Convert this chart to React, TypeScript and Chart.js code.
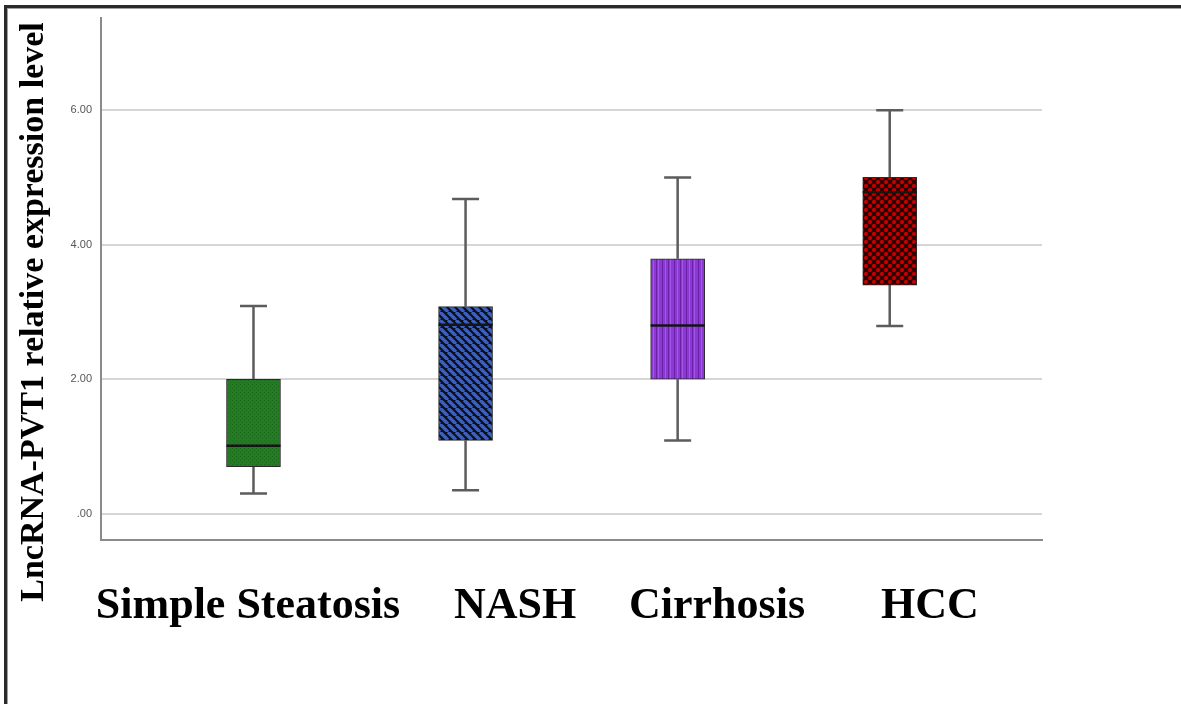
import React, { useEffect, useRef } from "react";
import { Chart, registerables } from "chart.js";

Chart.register(...registerables);

// ---- data ----
const categories = ["Simple Steatosis", "NASH", "Cirrhosis", "HCC"];
const whiskerMin = [0.3, 0.35, 1.09, 2.79];
const q1 = [0.7, 1.09, 2.0, 3.4];
const median = [1.01, 2.81, 2.8, 4.78];
const q3 = [2.0, 3.08, 3.79, 5.0];
const whiskerMax = [3.09, 4.68, 5.0, 6.0];
const yTicks = [0, 2, 4, 6];
const yTitle = "LncRNA-PVT1 relative expression level";

// ---- layout / style ----
const W = 1181;
const H = 704;
const labelCenters = [248, 515, 717, 930];
const labelBaseline = 618;

function makePattern(kind: string): CanvasPattern | string {
  const c = document.createElement("canvas");
  const g = c.getContext("2d")!;
  if (kind === "green") {
    c.width = 4; c.height = 4;
    g.fillStyle = "#237c23"; g.fillRect(0, 0, 4, 4);
    g.fillStyle = "#1b691b";
    g.fillRect(0, 0, 1, 1); g.fillRect(2, 2, 1, 1);
  } else if (kind === "blue") {
    const s = 8;
    c.width = s; c.height = s;
    g.fillStyle = "#0c0f1c"; g.fillRect(0, 0, s, s);
    g.strokeStyle = "#3d60bc"; g.lineWidth = 3.4;
    for (const off of [-s, 0, s]) {
      g.beginPath(); g.moveTo(off, 0); g.lineTo(off + s, s); g.stroke();
    }
  } else if (kind === "purple") {
    c.width = 12; c.height = 4;
    g.fillStyle = "#8c38d2"; g.fillRect(0, 0, 12, 4);
    g.fillStyle = "#6a22a6"; g.fillRect(2, 0, 1, 4); g.fillRect(8, 0, 1, 4);
    g.fillStyle = "#a454ea"; g.fillRect(5, 0, 1, 4); g.fillRect(10, 0, 1, 4);
  } else {
    const s = 8;
    c.width = s; c.height = s;
    g.fillStyle = "#300000"; g.fillRect(0, 0, s, s);
    g.fillStyle = "#c20000";
    for (const [x, y] of [[2, 2], [6, 6], [-2, 6], [6, -2], [10, 6], [6, 10], [2, 10], [10, 2], [-2, -2], [10, 10]]) {
      g.beginPath(); g.arc(x, y, 2.1, 0, Math.PI * 2); g.fill();
    }
  }
  const p = g.createPattern(c, "repeat");
  return p || "#888";
}

const boxPlugin = {
  id: "boxExtras",
  beforeDatasetsDraw(chart: any) {
    const { ctx, scales } = chart;
    const xs = scales.x, ys = scales.y;
    ctx.save();
    ctx.strokeStyle = "#5c5c5c";
    ctx.lineWidth = 2.5;
    categories.forEach((_, i) => {
      const px = xs.getPixelForValue(i);
      const yMax = ys.getPixelForValue(whiskerMax[i]);
      const yMin = ys.getPixelForValue(whiskerMin[i]);
      ctx.beginPath();
      ctx.moveTo(px, yMax); ctx.lineTo(px, ys.getPixelForValue(q3[i]));
      ctx.moveTo(px, yMin); ctx.lineTo(px, ys.getPixelForValue(q1[i]));
      ctx.moveTo(px - 13.5, yMax); ctx.lineTo(px + 13.5, yMax);
      ctx.moveTo(px - 13.5, yMin); ctx.lineTo(px + 13.5, yMin);
      ctx.stroke();
    });
    ctx.restore();
  },
  afterDatasetsDraw(chart: any) {
    const { ctx, scales } = chart;
    const xs = scales.x, ys = scales.y;
    const meta = chart.getDatasetMeta(0);
    ctx.save();
    ctx.strokeStyle = "#151515";
    ctx.lineWidth = 2.5;
    categories.forEach((_, i) => {
      const bar = meta.data[i];
      const half = bar.width / 2;
      const px = xs.getPixelForValue(i);
      const y = ys.getPixelForValue(median[i]);
      ctx.beginPath();
      ctx.moveTo(px - half, y); ctx.lineTo(px + half, y);
      ctx.stroke();
    });
    ctx.restore();
  },
  afterDraw(chart: any) {
    const { ctx } = chart;
    ctx.save();
    // frame
    ctx.fillStyle = "#2a2a2a";
    ctx.fillRect(4, 5, W - 4, 3);
    ctx.fillRect(4, 5, 3, H - 5);
    ctx.fillStyle = "#a0a0a0";
    ctx.fillRect(7, 8, W - 7, 1);
    ctx.fillRect(7, 8, 1, H - 8);
    // y title
    ctx.fillStyle = "#000";
    ctx.font = "bold 34px 'Liberation Serif', 'Times New Roman', serif";
    ctx.textAlign = "center";
    ctx.textBaseline = "alphabetic";
    ctx.translate(43, 312);
    ctx.rotate(-Math.PI / 2);
    ctx.fillText(yTitle, 0, 0);
    ctx.restore();
    ctx.save();
    ctx.fillStyle = "#000";
    ctx.font = "bold 44px 'Liberation Serif', 'Times New Roman', serif";
    ctx.textAlign = "center";
    ctx.textBaseline = "alphabetic";
    categories.forEach((c, i) => ctx.fillText(c, labelCenters[i], labelBaseline));
    ctx.restore();
  },
};

export default function App() {
  const ref = useRef<HTMLCanvasElement | null>(null);
  useEffect(() => {
    if (!ref.current) return;
    const fills = ["green", "blue", "purple", "red"].map(makePattern);
    const chart = new Chart(ref.current, {
      type: "bar",
      data: {
        datasets: [
          {
            data: categories.map((_, i) => ({ x: i, y: [q1[i], q3[i]] })) as any,
            backgroundColor: fills as any,
            borderColor: "#2a2a2a",
            borderWidth: 1,
            borderSkipped: false,
            barThickness: 54,
          },
        ],
      },
      options: {
        responsive: false,
        animation: false,
        layout: { padding: { top: 18, right: 139, left: 0, bottom: 0 } },
        plugins: { legend: { display: false }, tooltip: { enabled: false } },
        scales: {
          x: {
            type: "linear",
            min: -0.719,
            max: 3.718,
            offset: false,
            grid: { display: false },
            ticks: { display: false },
            border: { display: true, color: "#8a8a8a", width: 2 },
            afterFit: (s: any) => { s.height = H - 540; },
          },
          y: {
            type: "linear",
            min: -0.39,
            max: 7.37,
            afterBuildTicks: (s: any) => { s.ticks = yTicks.map((v) => ({ value: v })); },
            ticks: {
              padding: 9,
              color: "#555",
              font: { size: 11, family: "'Liberation Sans', Arial, sans-serif" },
              callback: (v: any) => (Number(v) === 0 ? ".00" : Number(v).toFixed(2)),
            },
            grid: { color: "#d6d6d6", lineWidth: 2, drawTicks: false },
            border: { display: true, color: "#8a8a8a", width: 2 },
            afterFit: (s: any) => { s.width = 101; },
          },
        },
      },
      plugins: [boxPlugin],
    });
    return () => chart.destroy();
  }, []);
  return (
    <div style={{ position: "fixed", left: 0, top: 0, width: W, height: H, background: "#fff" }}>
      <canvas ref={ref} width={W} height={H} style={{ display: "block" }} />
    </div>
  );
}
